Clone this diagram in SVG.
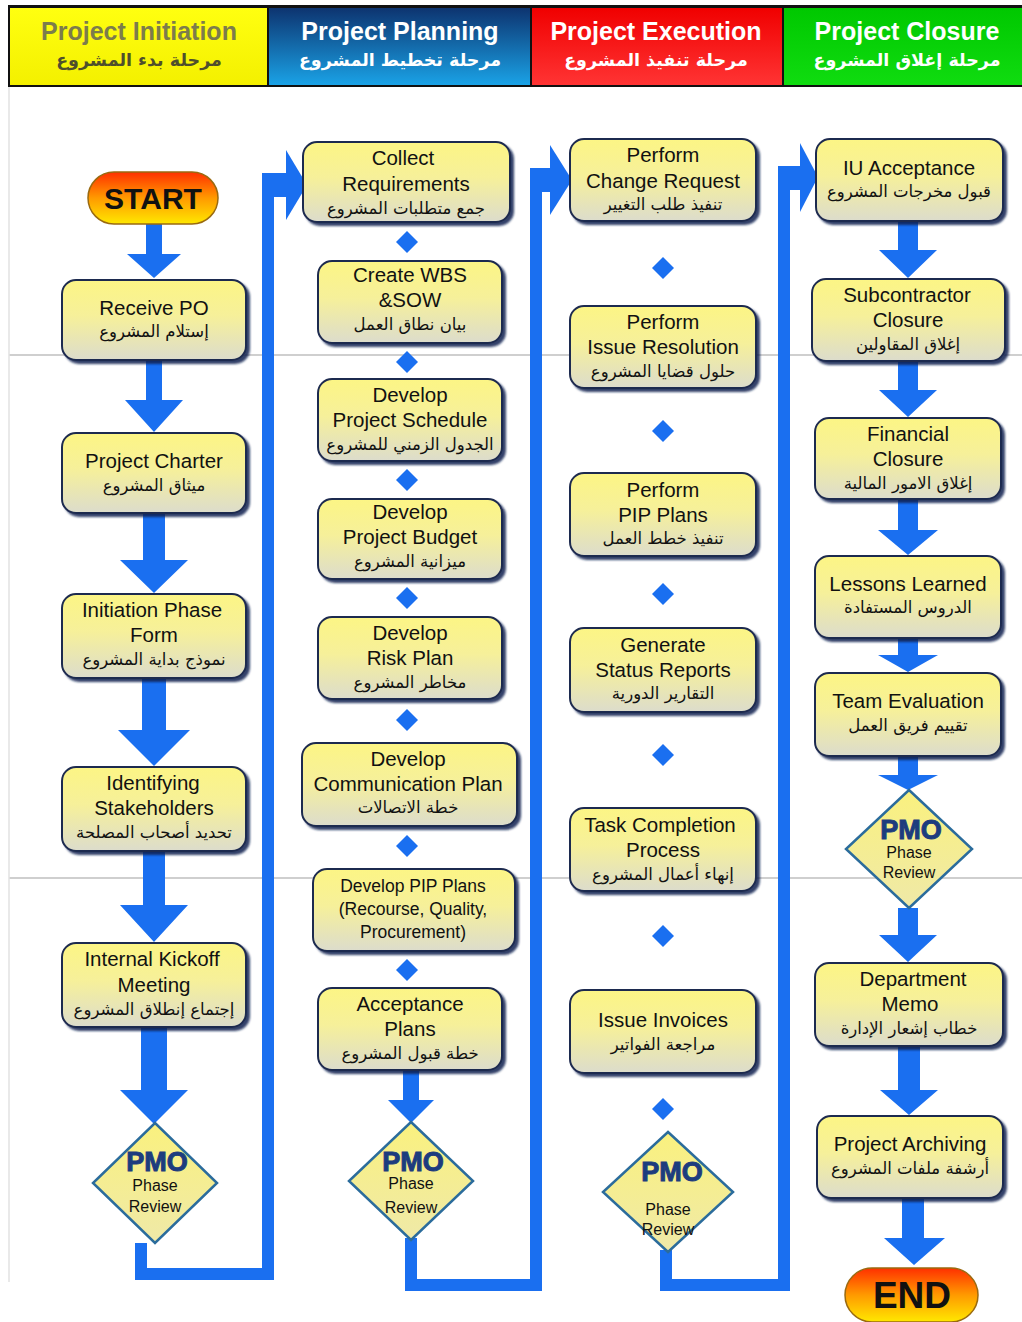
<svg xmlns="http://www.w3.org/2000/svg" width="1022" height="1322" viewBox="0 0 1022 1322">
<defs>
<linearGradient id="gBox" x1="0" y1="0" x2="0" y2="1"><stop offset="0" stop-color="#fcf585"/><stop offset="0.45" stop-color="#f6f09a"/><stop offset="1" stop-color="#dcdccc"/></linearGradient>
<linearGradient id="gDia" x1="0" y1="0" x2="0" y2="1"><stop offset="0" stop-color="#faf17e"/><stop offset="1" stop-color="#efe9a8"/></linearGradient>
<linearGradient id="gPill" x1="0" y1="0" x2="0" y2="1"><stop offset="0" stop-color="#ff3000"/><stop offset="0.5" stop-color="#ff9a00"/><stop offset="1" stop-color="#ffe800"/></linearGradient>
<linearGradient id="gYel" x1="0" y1="0" x2="0" y2="1"><stop offset="0" stop-color="#ffff10"/><stop offset="1" stop-color="#f4f000"/></linearGradient>
<linearGradient id="gBlu" x1="0" y1="0" x2="0" y2="1"><stop offset="0" stop-color="#0d3470"/><stop offset="1" stop-color="#1aa2e6"/></linearGradient>
<linearGradient id="gRed" x1="0" y1="0" x2="0" y2="1"><stop offset="0" stop-color="#f00000"/><stop offset="1" stop-color="#ff3434"/></linearGradient>
<linearGradient id="gGrn" x1="0" y1="0" x2="0" y2="1"><stop offset="0" stop-color="#00c800"/><stop offset="1" stop-color="#10dc10"/></linearGradient>
<filter id="sh" x="-10%" y="-10%" width="130%" height="130%"><feDropShadow dx="3" dy="3" stdDeviation="1" flood-color="#0e2450" flood-opacity="0.85"/></filter>
</defs>
<style>
text{font-family:"Liberation Sans",Arial,sans-serif;text-anchor:middle;dominant-baseline:central;fill:#111}
.node rect.box{fill:url(#gBox);stroke:#1f2b4f;stroke-width:2;filter:url(#sh)}
.node text{font-size:20.5px}
.node text.ar{font-family:"DejaVu Sans","Noto Sans",sans-serif;font-size:16.5px}
.node text.sm{font-size:17.5px}
.pill{fill:url(#gPill);stroke:#9a6a10;stroke-width:1.5}
.pilltxt{font-weight:bold;fill:#111}
.pmo polygon{fill:url(#gDia);stroke:#2b6c9c;stroke-width:2.5}
.pmo text.p{font-weight:900;font-size:27px;fill:#1d3c7e;stroke:#1d3c7e;stroke-width:1}
.pmo text.s{font-size:16px}
.blue{fill:#1a6ff0}
.conn{fill:none;stroke:#1a6ff0;stroke-width:12;stroke-linejoin:miter}
.hdr{font-weight:bold;font-size:25px;fill:#fff}
.hdrar{font-family:"DejaVu Sans","Noto Sans",sans-serif;font-weight:bold;font-size:17.5px;fill:#fff}
.grid{stroke:#cfcfcf;stroke-width:2}
</style>
<rect width="1022" height="1322" fill="#fff"/>
<g id="background">
<line class="grid" x1="9" y1="355" x2="1022" y2="355"/>
<line class="grid" x1="9" y1="878" x2="1022" y2="878"/>
<line x1="9" y1="86" x2="9" y2="1282" stroke="#e2e2e2" stroke-width="1.5"/>
</g>
<g id="header">
<rect x="8" y="5" width="1014" height="82" fill="#111"/>
<rect x="10" y="8" width="257" height="77" fill="url(#gYel)"/>
<rect x="269" y="8" width="261" height="77" fill="url(#gBlu)"/>
<rect x="532" y="8" width="250" height="77" fill="url(#gRed)"/>
<rect x="784" y="8" width="238" height="77" fill="url(#gGrn)"/>
<text class="hdr" x="139" y="31" style="fill:#7c7c4c">Project Initiation</text>
<text class="hdrar" x="139" y="60" style="fill:#4f4f2c">مرحلة بدء المشروع</text>
<text class="hdr" x="400" y="31">Project Planning</text>
<text class="hdrar" x="400" y="60">مرحلة تخطيط المشروع</text>
<text class="hdr" x="656" y="31">Project Execution</text>
<text class="hdrar" x="656" y="60">مرحلة تنفيذ المشروع</text>
<text class="hdr" x="907" y="31">Project Closure</text>
<text class="hdrar" x="907" y="60">مرحلة إغلاق المشروع</text>
</g>
<g id="connectors">
<path class="conn" d="M141,1243 V1274 H268 V185 H288"/>
<rect class="blue" x="262" y="173" width="26" height="24"/>
<polygon class="blue" points="286,150 307,185 286,220"/>
<path class="conn" d="M411,1238 V1285 H536 V180 H552"/>
<rect class="blue" x="530" y="168" width="22" height="24"/>
<polygon class="blue" points="550,145 572,180 550,215"/>
<path class="conn" d="M666,1250 V1285 H784 V178 H802"/>
<rect class="blue" x="778" y="166" width="24" height="24"/>
<polygon class="blue" points="800,143 818,177 800,212"/>
<polygon class="blue" points="146,224 162,224 162,254 181,254 154,278 127,254 146,254"/>
<polygon class="blue" points="146,360 162,360 162,400 183,400 154,432 125,400 146,400"/>
<polygon class="blue" points="143,513 165,513 165,560 188,560 154,593 120,560 143,560"/>
<polygon class="blue" points="142,678 166,678 166,730 190,730 154,766 118,730 142,730"/>
<polygon class="blue" points="143,851 165,851 165,905 188,905 154,942 120,905 143,905"/>
<polygon class="blue" points="141,1027 167,1027 167,1090 188,1090 154,1124 120,1090 141,1090"/>
<polygon class="blue" points="403,1070 419,1070 419,1100 434,1100 411,1123 388,1100 403,1100"/>
<polygon class="blue" points="898,221 918,221 918,250 937,250 908,278 879,250 898,250"/>
<polygon class="blue" points="898,361 918,361 918,390 937,390 908,417 879,390 898,390"/>
<polygon class="blue" points="898,499 918,499 918,530 938,530 908,555 878,530 898,530"/>
<polygon class="blue" points="898,638 918,638 918,655 938,655 908,672 878,655 898,655"/>
<polygon class="blue" points="898,756 918,756 918,775 938,775 908,790 878,775 898,775"/>
<polygon class="blue" points="898,908 918,908 918,935 937,935 908,962 879,935 898,935"/>
<polygon class="blue" points="898,1046 920,1046 920,1090 938,1090 909,1115 880,1090 898,1090"/>
<polygon class="blue" points="902,1198 924,1198 924,1238 945,1238 914,1265 884,1238 902,1238"/>
<polygon class="blue" points="407,231 418,242 407,253 396,242"/>
<polygon class="blue" points="407,351 418,362 407,373 396,362"/>
<polygon class="blue" points="407,469 418,480 407,491 396,480"/>
<polygon class="blue" points="407,587 418,598 407,609 396,598"/>
<polygon class="blue" points="407,709 418,720 407,731 396,720"/>
<polygon class="blue" points="407,835 418,846 407,857 396,846"/>
<polygon class="blue" points="407,959 418,970 407,981 396,970"/>
<polygon class="blue" points="663,257 674,268 663,279 652,268"/>
<polygon class="blue" points="663,420 674,431 663,442 652,431"/>
<polygon class="blue" points="663,583 674,594 663,605 652,594"/>
<polygon class="blue" points="663,744 674,755 663,766 652,755"/>
<polygon class="blue" points="663,925 674,936 663,947 652,936"/>
<polygon class="blue" points="663,1098 674,1109 663,1120 652,1109"/>
</g>
<g id="n-start"><rect class="pill" x="88" y="172" width="130" height="52" rx="26"/><text class="pilltxt" x="153" y="198" font-size="30">START</text></g>
<g id="n-receive-po" class="node"><rect class="box" x="62" y="280" width="184" height="80" rx="14"/><text x="154" y="307">Receive PO</text><text class="ar" x="154" y="331">إستلام المشروع</text></g>
<g id="n-project-charter" class="node"><rect class="box" x="62" y="433" width="184" height="80" rx="14"/><text x="154" y="460">Project Charter</text><text class="ar" x="154" y="485">ميثاق المشروع</text></g>
<g id="n-initiation-form" class="node"><rect class="box" x="62" y="594" width="184" height="84" rx="14"/><text x="152" y="609">Initiation Phase</text><text x="154" y="634">Form</text><text class="ar" x="154" y="659">نموذج بداية المشروع</text></g>
<g id="n-stakeholders" class="node"><rect class="box" x="62" y="767" width="184" height="84" rx="14"/><text x="153" y="782">Identifying</text><text x="154" y="807">Stakeholders</text><text class="ar" x="154" y="832">تحديد أصحاب المصلحة</text></g>
<g id="n-kickoff" class="node"><rect class="box" x="62" y="943" width="184" height="84" rx="14"/><text x="152" y="958">Internal Kickoff</text><text x="154" y="984">Meeting</text><text class="ar" x="154" y="1009">إجتماع إنطلاق المشروع</text></g>
<g id="n-pmo-1" class="pmo"><polygon points="155,1123 217,1183 155,1243 93,1183"/><text class="p" x="157" y="1162">PMO</text><text class="s" x="155" y="1185">Phase</text><text class="s" x="155" y="1206">Review</text></g>
<g id="n-collect-req" class="node"><rect class="box" x="303" y="142" width="207" height="80" rx="14"/><text x="403" y="157">Collect</text><text x="406" y="183">Requirements</text><text class="ar" x="406" y="208">جمع متطلبات المشروع</text></g>
<g id="n-wbs" class="node"><rect class="box" x="318" y="261" width="184" height="82" rx="14"/><text x="410" y="274">Create WBS</text><text x="410" y="299">&amp;SOW</text><text class="ar" x="410" y="324">بيان نطاق العمل</text></g>
<g id="n-schedule" class="node"><rect class="box" x="318" y="379" width="184" height="82" rx="14"/><text x="410" y="394">Develop</text><text x="410" y="419">Project Schedule</text><text class="ar" x="410" y="444">الجدول الزمني للمشروع</text></g>
<g id="n-budget" class="node"><rect class="box" x="318" y="499" width="184" height="80" rx="14"/><text x="410" y="511">Develop</text><text x="410" y="536">Project Budget</text><text class="ar" x="410" y="561">ميزانية المشروع</text></g>
<g id="n-risk" class="node"><rect class="box" x="318" y="617" width="184" height="82" rx="14"/><text x="410" y="632">Develop</text><text x="410" y="657">Risk Plan</text><text class="ar" x="410" y="682">مخاطر المشروع</text></g>
<g id="n-comm" class="node"><rect class="box" x="302" y="743" width="215" height="83" rx="14"/><text x="408" y="758">Develop</text><text x="408" y="783">Communication Plan</text><text class="ar" x="408" y="807">خطة الاتصالات</text></g>
<g id="n-pip-plans" class="node"><rect class="box" x="313" y="869" width="202" height="82" rx="14"/><text class="sm" x="413" y="886">Develop PIP Plans</text><text class="sm" x="413" y="909">(Recourse, Quality,</text><text class="sm" x="413" y="932">Procurement)</text></g>
<g id="n-acceptance-plans" class="node"><rect class="box" x="318" y="988" width="184" height="82" rx="14"/><text x="410" y="1003">Acceptance</text><text x="410" y="1028">Plans</text><text class="ar" x="410" y="1053">خطة قبول المشروع</text></g>
<g id="n-pmo-2" class="pmo"><polygon points="411,1122 473,1181 411,1240 349,1181"/><text class="p" x="413" y="1162">PMO</text><text class="s" x="411" y="1183">Phase</text><text class="s" x="411" y="1207">Review</text></g>
<g id="n-change-req" class="node"><rect class="box" x="570" y="139" width="186" height="82" rx="14"/><text x="663" y="154">Perform</text><text x="663" y="180">Change Request</text><text class="ar" x="663" y="204">تنفيذ طلب التغيير</text></g>
<g id="n-issue-res" class="node"><rect class="box" x="570" y="306" width="186" height="82" rx="14"/><text x="663" y="321">Perform</text><text x="663" y="346">Issue Resolution</text><text class="ar" x="663" y="371">حلول قضايا المشروع</text></g>
<g id="n-perform-pip" class="node"><rect class="box" x="570" y="473" width="186" height="83" rx="14"/><text x="663" y="489">Perform</text><text x="663" y="514">PIP Plans</text><text class="ar" x="663" y="538">تنفيذ خطط العمل</text></g>
<g id="n-status" class="node"><rect class="box" x="570" y="628" width="186" height="84" rx="14"/><text x="663" y="644">Generate</text><text x="663" y="669">Status Reports</text><text class="ar" x="663" y="693">التقارير الدورية</text></g>
<g id="n-task-completion" class="node"><rect class="box" x="570" y="808" width="186" height="83" rx="14"/><text x="660" y="824">Task Completion</text><text x="663" y="849">Process</text><text class="ar" x="663" y="874">إنهاء أعمال المشروع</text></g>
<g id="n-invoices" class="node"><rect class="box" x="570" y="990" width="186" height="83" rx="14"/><text x="663" y="1019">Issue Invoices</text><text class="ar" x="663" y="1044">مراجعة الفواتير</text></g>
<g id="n-pmo-3" class="pmo"><polygon points="668,1132 733,1192 668,1252 603,1192"/><text class="p" x="672" y="1172">PMO</text><text class="s" x="668" y="1209">Phase</text><text class="s" x="668" y="1229">Review</text></g>
<g id="n-iu-acceptance" class="node"><rect class="box" x="816" y="139" width="187" height="82" rx="14"/><text x="909" y="167">IU Acceptance</text><text class="ar" x="909" y="191">قبول مخرجات المشروع</text></g>
<g id="n-subcontractor" class="node"><rect class="box" x="812" y="279" width="193" height="82" rx="14"/><text x="907" y="294">Subcontractor</text><text x="908" y="319">Closure</text><text class="ar" x="908" y="344">إغلاق المقاولين</text></g>
<g id="n-financial" class="node"><rect class="box" x="815" y="418" width="186" height="81" rx="14"/><text x="908" y="433">Financial</text><text x="908" y="458">Closure</text><text class="ar" x="908" y="483">إغلاق الامور المالية</text></g>
<g id="n-lessons" class="node"><rect class="box" x="815" y="556" width="186" height="82" rx="14"/><text x="908" y="583">Lessons Learned</text><text class="ar" x="908" y="607">الدروس المستفادة</text></g>
<g id="n-team-eval" class="node"><rect class="box" x="815" y="673" width="186" height="83" rx="14"/><text x="908" y="700">Team Evaluation</text><text class="ar" x="908" y="725">تقييم فريق العمل</text></g>
<g id="n-pmo-4" class="pmo"><polygon points="909,790 972,849 909,908 846,849"/><text class="p" x="911" y="830">PMO</text><text class="s" x="909" y="852">Phase</text><text class="s" x="909" y="872">Review</text></g>
<g id="n-dept-memo" class="node"><rect class="box" x="815" y="963" width="188" height="83" rx="14"/><text x="913" y="978">Department</text><text x="910" y="1003">Memo</text><text class="ar" x="909" y="1028">خطاب إشعار الإدارة</text></g>
<g id="n-archiving" class="node"><rect class="box" x="817" y="1116" width="186" height="82" rx="14"/><text x="910" y="1143">Project Archiving</text><text class="ar" x="910" y="1168">أرشفة ملفات المشروع</text></g>
<g id="n-end"><rect class="pill" x="845" y="1268" width="133" height="54" rx="27"/><text class="pilltxt" x="912" y="1295" font-size="37">END</text></g>
</svg>
